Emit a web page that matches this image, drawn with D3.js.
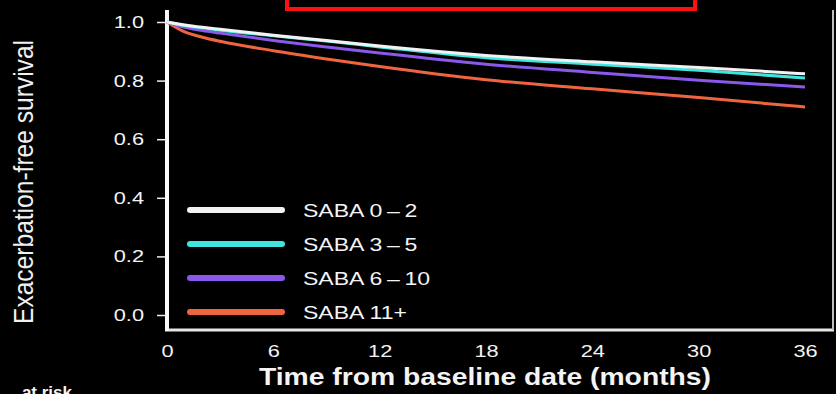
<!DOCTYPE html>
<html>
<head>
<meta charset="utf-8">
<script src="https://cdn.jsdelivr.net/npm/d3@7"></script>
<style>
    html, body { margin: 0; padding: 0; background: #000; }
    svg { display: block; font-family: "Liberation Sans", Arial, Helvetica, sans-serif; }
</style>
</head>
<body>
<svg id="chart" width="836" height="394"></svg>
<script>
// data
var months = [0, 1, 2, 3, 6, 9, 12, 18, 24, 30, 36];
var saba0to2 = [1, 0.990, 0.982, 0.975, 0.955, 0.937, 0.918, 0.886, 0.864, 0.845, 0.823];
var saba3to5 = [1, 0.988, 0.980, 0.972, 0.953, 0.935, 0.915, 0.878, 0.856, 0.835, 0.809];
var saba6to10 = [1, 0.982, 0.971, 0.962, 0.937, 0.915, 0.894, 0.856, 0.828, 0.801, 0.778];
var saba11 = [1, 0.966, 0.948, 0.934, 0.902, 0.874, 0.848, 0.803, 0.772, 0.742, 0.710];
var seriesNames = ["SABA 0\u2009\u2013\u20092", "SABA 3\u2009\u2013\u20095", "SABA 6\u2009\u2013\u200910", "SABA 11+"];
var xTicks = [0, 6, 12, 18, 24, 30, 36];
var yTicks = [0, 0.2, 0.4, 0.6, 0.8, 1.0];

var colors = ["#f2f2f2", "#3fe6df", "#8a58ea", "#ef6540"];
var seriesValues = [saba0to2, saba3to5, saba6to10, saba11];

// the source picture is stretched sideways, so text is widened to match
var WIDEN = 1.28;
function widen(sel, factor) {
    sel.each(function() {
        var w = this.getComputedTextLength();
        d3.select(this)
            .attr("textLength", w * (factor || WIDEN))
            .attr("lengthAdjust", "spacingAndGlyphs");
    });
}

var svg = d3.select("#chart");

var x = d3.scaleLinear().domain([0, 36]).range([167, 805]);
var y = d3.scaleLinear().domain([0, 1]).range([315, 22]);

// red box at the top (cut off)
svg.append("rect")
    .attr("x", 287).attr("y", -10)
    .attr("width", 408).attr("height", 19)
    .attr("fill", "none")
    .attr("stroke", "#ff1010")
    .attr("stroke-width", 4);

// frame: bottom and right
svg.append("line")
    .attr("x1", 165).attr("x2", 834)
    .attr("y1", 330).attr("y2", 330)
    .attr("stroke", "#e6e6e6").attr("stroke-width", 3);
svg.append("line")
    .attr("x1", 833).attr("x2", 833)
    .attr("y1", 10).attr("y2", 330)
    .attr("stroke", "#bdbdbd").attr("stroke-width", 2);

// y axis
var yAxis = d3.axisLeft(y)
    .tickValues(yTicks)
    .tickFormat(d3.format(".1f"))
    .tickSize(9)
    .tickPadding(13);

var gy = svg.append("g")
    .attr("transform", "translate(166,0)")
    .call(yAxis);
gy.select(".domain").remove();
gy.selectAll(".tick line").attr("stroke", "#eee").attr("stroke-width", 1.5);
gy.selectAll(".tick text")
    .attr("fill", "#f4f4f4")
    .style("font-size", "17px")
    .call(widen);

svg.append("line")
    .attr("x1", 167).attr("x2", 167)
    .attr("y1", 10).attr("y2", 331)
    .attr("stroke", "#fafafa").attr("stroke-width", 4);

// x axis (labels only, no tick marks)
var xAxis = d3.axisBottom(x)
    .tickValues(xTicks)
    .tickSize(0)
    .tickPadding(15);

var gx = svg.append("g")
    .attr("transform", "translate(0,330)")
    .call(xAxis);
gx.select(".domain").remove();
gx.selectAll(".tick text")
    .attr("fill", "#f4f4f4")
    .style("font-size", "17px")
    .call(widen);

// curves
var line = d3.line()
    .x((d, i) => x(months[i]))
    .y(d => y(d))
    .curve(d3.curveMonotoneX);

svg.append("g").selectAll("path")
    .data(seriesValues.slice().reverse())
    .enter().append("path")
    .attr("d", line)
    .attr("fill", "none")
    .attr("stroke", (d, i) => colors[colors.length - 1 - i])
    .attr("stroke-width", 3);

// legend
var legend = svg.append("g").selectAll("g")
    .data(seriesNames)
    .enter().append("g")
    .attr("transform", (d, i) => `translate(0,${210 + i * 34})`);

legend.append("line")
    .attr("x1", 190).attr("x2", 282)
    .attr("y1", 0).attr("y2", 0)
    .attr("stroke", (d, i) => colors[i])
    .attr("stroke-width", 6)
    .attr("stroke-linecap", "round");

legend.append("text")
    .attr("x", 303).attr("y", 7)
    .attr("fill", "#f4f4f4")
    .style("font-size", "18px")
    .text(d => d)
    .call(widen);

// axis titles
svg.append("text")
    .attr("x", 485).attr("y", 385)
    .attr("text-anchor", "middle")
    .attr("fill", "#f4f4f4")
    .style("font-size", "24px")
    .style("font-weight", "bold")
    .attr("textLength", 452)
    .attr("lengthAdjust", "spacingAndGlyphs")
    .text("Time from baseline date (months)");

svg.append("text")
    .attr("transform", "translate(33,182) scale(1.25,1) rotate(-90)")
    .attr("text-anchor", "middle")
    .attr("fill", "#f0f0f0")
    .style("font-size", "22px")
    .attr("textLength", 284)
    .attr("lengthAdjust", "spacingAndGlyphs")
    .text("Exacerbation-free survival");

// cut-off text at the bottom left
svg.append("text")
    .attr("x", 72).attr("y", 398)
    .attr("text-anchor", "end")
    .attr("fill", "#f4f4f4")
    .style("font-size", "17px")
    .style("font-weight", "bold")
    .text("at risk");
</script>
</body>
</html>
